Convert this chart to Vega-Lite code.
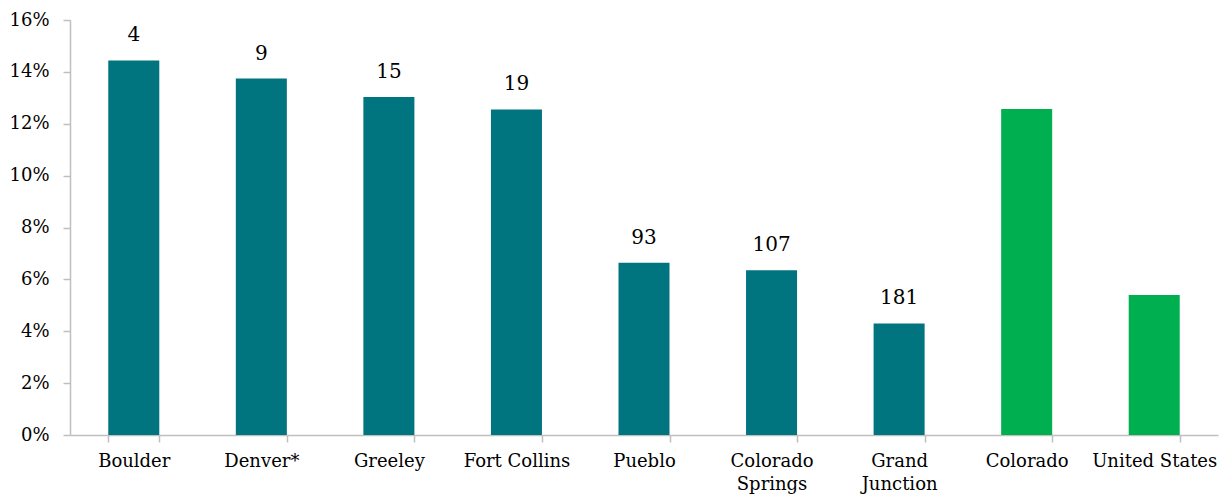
{
  "$schema": "https://vega.github.io/schema/vega-lite/v6.json",
  "width": 1148,
  "height": 415,
  "autosize": {"type": "none"},
  "padding": {"left": 70, "top": 20, "right": 7, "bottom": 68},
  "background": "white",
  "config": {
    "view": {"stroke": null},
    "font": "DejaVu Serif",
    "text": {"font": "DejaVu Serif"},
    "axis": {"labelFont": "DejaVu Serif", "labelColor": "#000000", "domainColor": "#BFBFBF", "tickColor": "#BFBFBF", "domainWidth": 1.5, "tickWidth": 1.5, "grid": false, "title": null}
  },
  "data": {
    "values": [
      {"place": "Boulder", "share": 0.1444, "rank": "4", "group": "city"},
      {"place": "Denver*", "share": 0.1374, "rank": "9", "group": "city"},
      {"place": "Greeley", "share": 0.1303, "rank": "15", "group": "city"},
      {"place": "Fort Collins", "share": 0.1255, "rank": "19", "group": "city"},
      {"place": "Pueblo", "share": 0.0664, "rank": "93", "group": "city"},
      {"place": "Colorado Springs", "share": 0.0635, "rank": "107", "group": "city"},
      {"place": "Grand Junction", "share": 0.0430, "rank": "181", "group": "city"},
      {"place": "Colorado", "share": 0.1257, "rank": "", "group": "area"},
      {"place": "United States", "share": 0.0540, "rank": "", "group": "area"}
    ]
  },
  "encoding": {
    "x": {
      "field": "place",
      "type": "nominal",
      "sort": null,
      "scale": {"paddingInner": 0.6, "paddingOuter": 0.3},
      "axis": {
        "labelAngle": 0,
        "labelFontSize": 18,
        "labelPadding": 10,
        "tickSize": 7,
        "tickBand": "extent",
        "labelLineHeight": 23,
        "labelExpr": "datum.label == 'Colorado Springs' || datum.label == 'Grand Junction' ? split(datum.label, ' ') : datum.label"
      }
    },
    "y": {
      "field": "share",
      "type": "quantitative",
      "scale": {"domain": [0, 0.16], "nice": false},
      "axis": {"values": [0, 0.02, 0.04, 0.06, 0.08, 0.1, 0.12, 0.14, 0.16], "format": ".0%", "labelFontSize": 18, "tickSize": 7, "labelPadding": 14}
    }
  },
  "layer": [
    {
      "mark": {"type": "bar"},
      "encoding": {
        "color": {
          "field": "group",
          "type": "nominal",
          "scale": {"domain": ["city", "area"], "range": ["#00747F", "#00B050"]},
          "legend": null
        }
      }
    },
    {
      "mark": {"type": "text", "baseline": "alphabetic", "dy": -19, "fontSize": 20, "color": "#000000"},
      "encoding": {"text": {"field": "rank"}}
    }
  ]
}
